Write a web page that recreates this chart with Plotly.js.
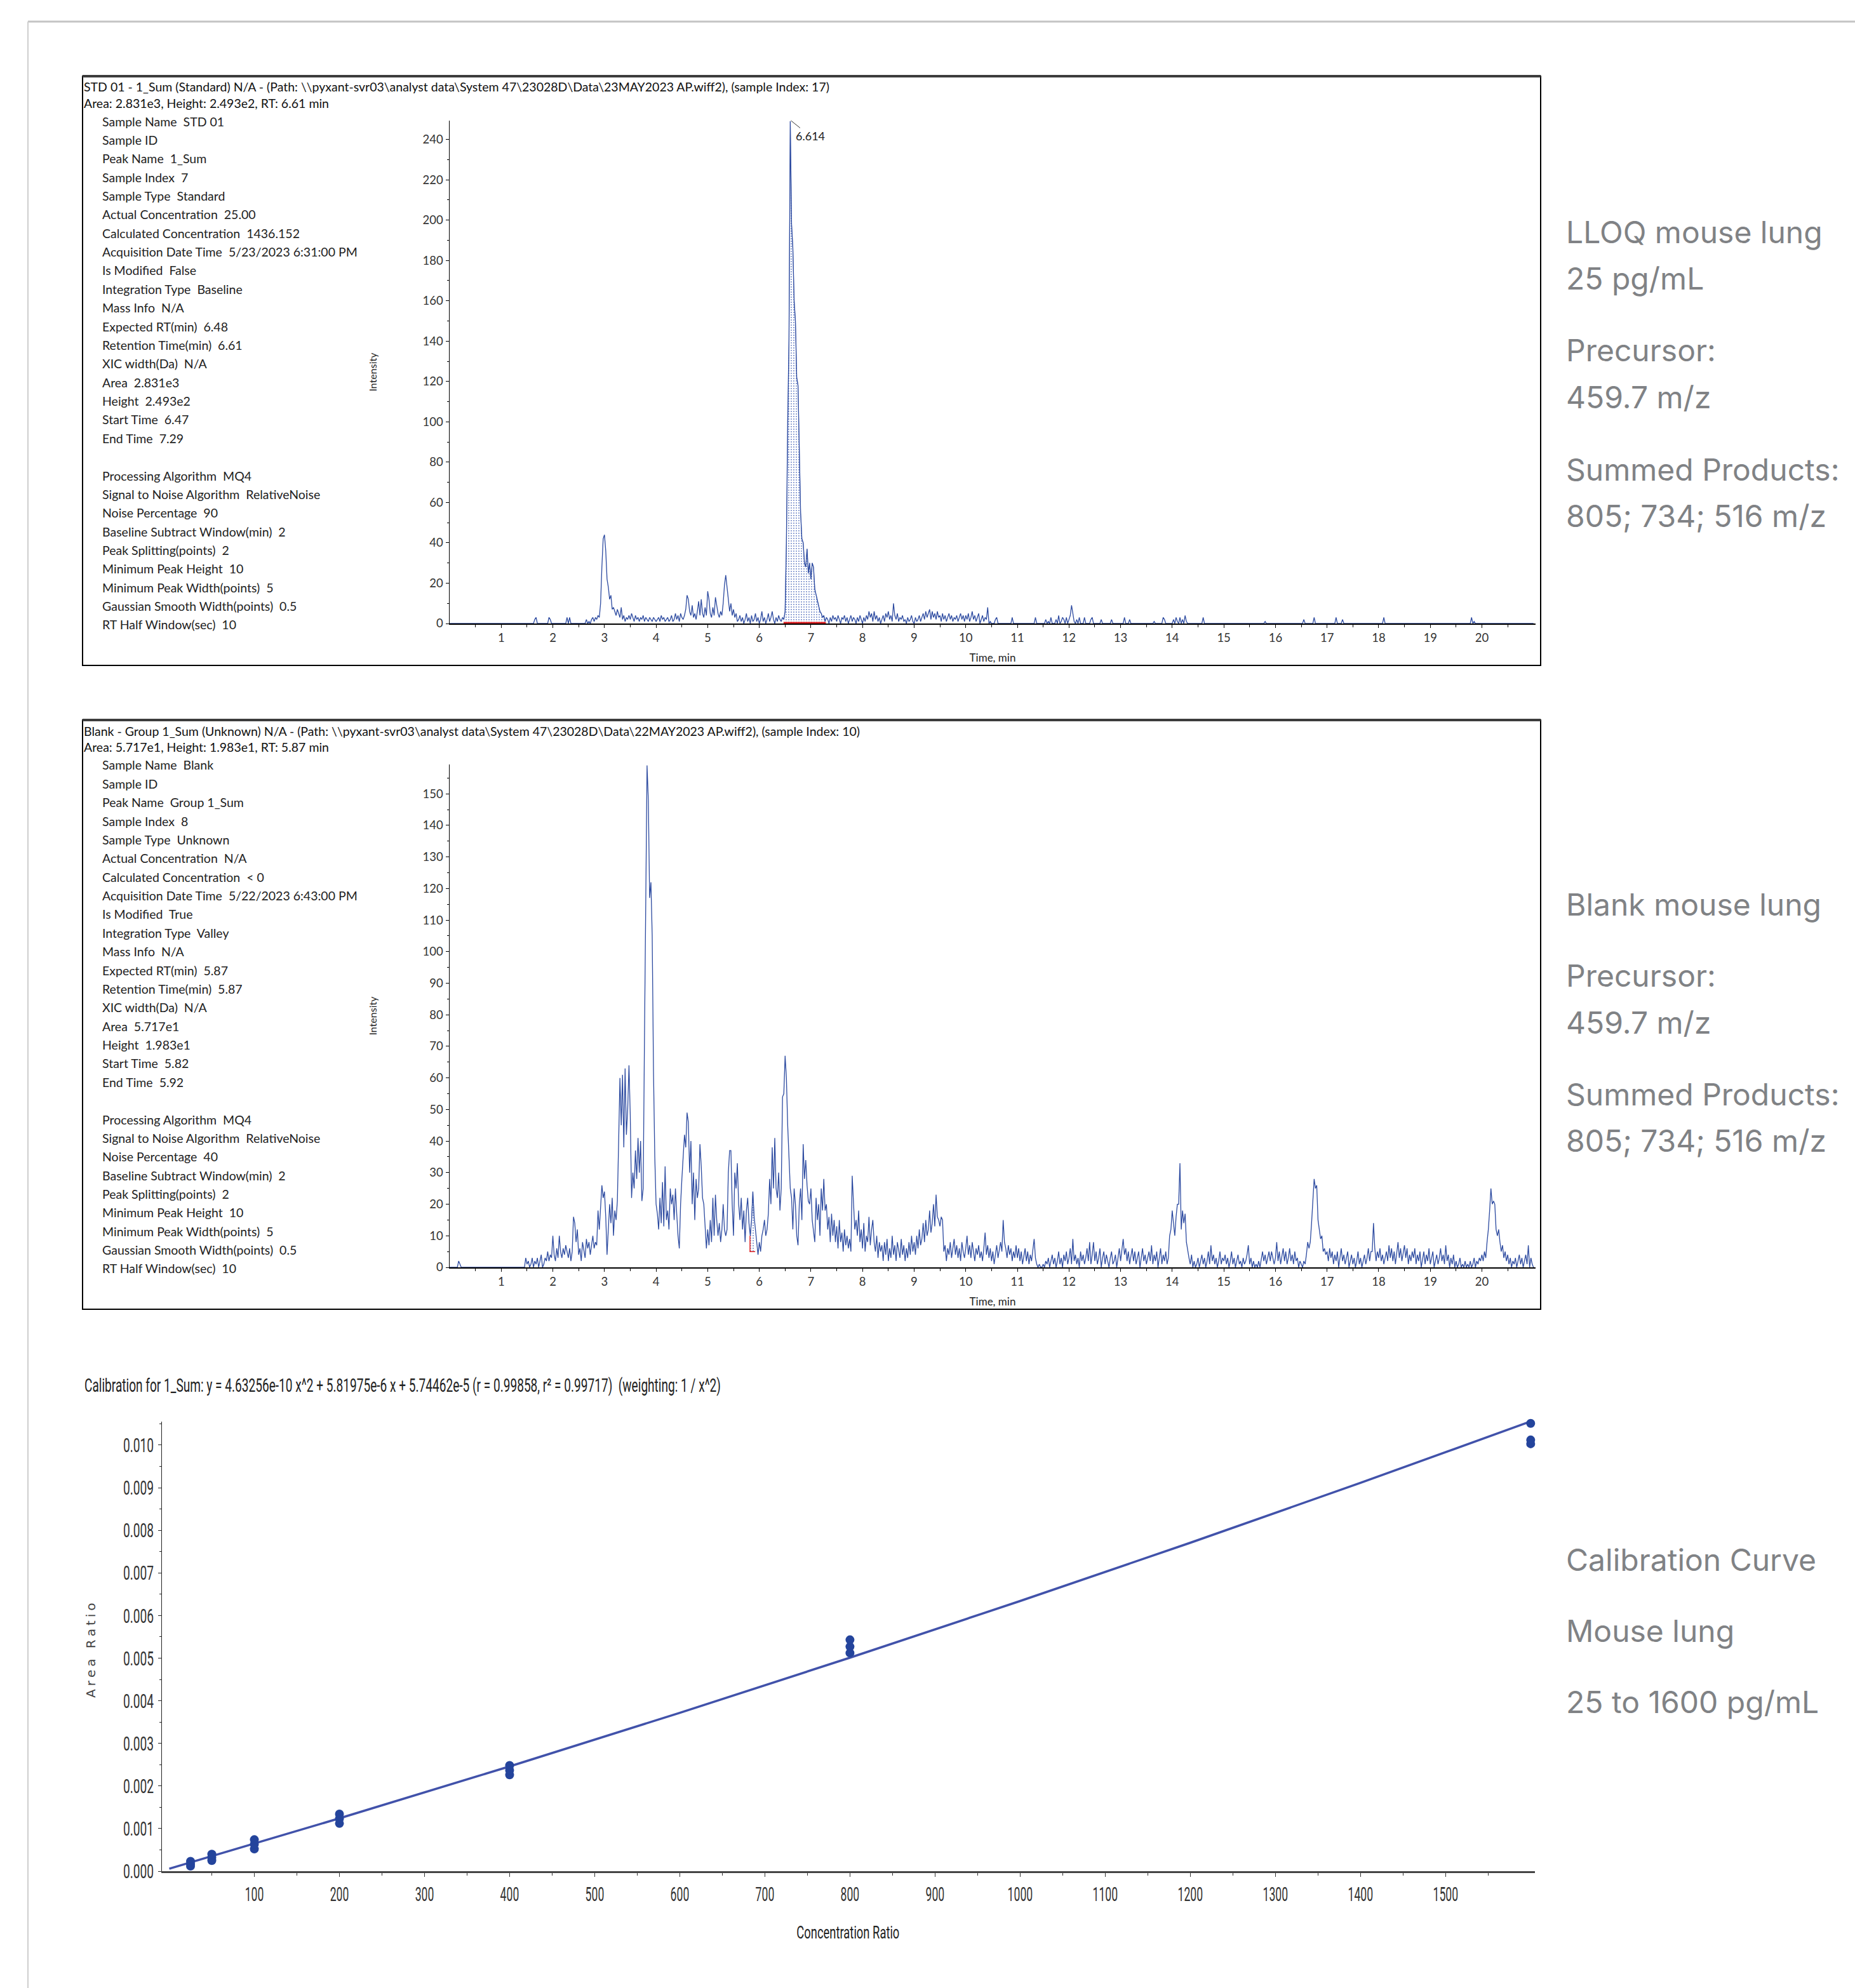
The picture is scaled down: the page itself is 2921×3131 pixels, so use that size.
<!DOCTYPE html>
<html><head><meta charset="utf-8">
<script src="https://cdn.plot.ly/plotly-3.0.1.min.js"></script>
<style>html,body{margin:0;padding:0;background:#fff}#chart{width:2921px;height:3131px}</style>
</head><body><div id="chart"></div>
<script>
// ---------------- DATA ----------------
// Chromatograms: one row per minute, sampled every 0.025 min (40 points per row)
const rtStep = 0.025;
const stdRows = [
 [0,0,0,0,0,0,0,0,0,0, 0,0,0,0,0,0,0,0,0,0, 0,0,0,0,0,0,0,0,0,0, 0,0,0,0,0,0,0,0,0,0],
 [0,0,0,0,0,0,0,0,0,0, 0,0,0,0,0,0,0,0,0,0, 0,0,0,0,0,0,2,3,0,0, 0,0,0,0,0,0,0,3,2,0],
 [0,0,0,0,0,0,0,0,0,0, 0,3,0,3,0,0,0,0,0,0, 0,0,0,0,0,0,2,0,1,0, 2,3,1,3,2,4,3,10,28,42],
 [44,36,22,18,12,14,7,8,6,4, 7,5,3,8,2,4,1,3,2,4, 2,5,3,1,4,2,3,1,3,2, 4,1,3,2,1,3,2,1,3,2],
 [1,2,3,1,4,2,3,1,2,3, 1,2,4,1,2,5,2,4,1,5, 3,2,4,7,14,12,6,4,9,3, 5,2,6,11,4,12,5,3,8,4],
 [16,12,5,3,8,4,13,9,5,3, 6,4,10,19,24,18,11,6,10,4, 7,3,5,1,2,4,1,3,0,2, 5,1,3,0,4,1,2,5,1,3],
 [0,2,6,1,3,0,2,5,1,3, 6,2,0,3,1,4,2,1,3,2, 6,40,100,140,249,198,186,160,150,122, 118,80,55,42,40,30,28,37,25,30],
 [22,30,28,17,14,11,8,6,5,3, 4,1,3,2,0,3,1,4,2,3, 1,4,2,0,3,2,4,1,3,0, 2,4,1,3,2,0,3,1,4,2],
 [0,3,1,4,2,6,3,5,1,6, 2,4,1,3,0,2,4,1,5,3, 6,2,4,1,10,4,2,5,1,3, 2,4,1,2,0,3,1,2,4,1],
 [0,3,1,2,4,1,3,5,2,6, 3,5,7,2,6,3,5,2,6,3, 4,1,5,2,4,1,3,5,2,4, 1,3,2,4,1,3,5,2,4,1],
 [4,2,5,1,3,6,2,4,1,3, 5,0,2,4,1,3,2,8,0,1, 0,0,0,2,3,0,0,0,0,0, 0,0,0,0,0,0,3,0,0,0],
 [0,0,0,0,0,0,0,0,0,0, 0,0,0,0,3,0,0,0,0,0, 0,0,2,0,1,0,3,0,0,0, 2,0,4,0,1,3,2,0,3,0],
 [2,4,9,5,1,0,2,0,3,0, 0,0,3,0,0,0,0,2,3,0, 0,0,0,0,0,2,0,0,0,0, 0,0,0,2,0,0,0,0,0,0],
 [0,0,0,3,0,0,0,2,0,0, 0,0,0,0,0,0,0,0,0,0, 0,0,0,0,0,0,1,0,0,0, 0,0,0,3,2,0,0,0,0,0],
 [0,2,0,3,1,0,3,0,2,0, 4,1,0,0,0,0,0,0,0,0, 0,0,0,0,3,0,0,0,0,0, 0,0,0,0,0,0,0,0,0,0],
 [0,0,0,0,0,0,0,0,0,0, 0,0,0,0,0,0,0,0,0,0, 0,0,0,0,0,0,0,0,0,0, 0,0,1,0,0,0,0,0,0,0],
 [0,0,0,0,0,0,0,0,0,0, 0,0,0,0,0,0,0,0,0,0, 0,0,2,0,0,0,0,0,0,0, 3,0,0,0,0,0,0,0,0,0],
 [0,0,0,0,0,0,0,3,0,0, 0,0,2,0,0,0,0,0,0,0, 0,0,0,0,0,0,0,0,0,0, 0,0,0,0,0,0,0,0,0,0],
 [0,0,0,0,3,0,0,0,0,0, 0,0,0,0,0,0,0,0,0,0, 0,0,0,0,0,0,0,0,0,0, 0,0,0,0,0,0,0,0,0,0],
 [0,0,0,0,0,0,0,0,0,0, 0,0,0,0,0,0,0,0,0,0, 0,0,0,0,0,0,0,0,0,0, 0,0,3,0,1,0,0,0,0,0],
 [0,0,0,0,0,0,0,0,0,0, 0,0,0,0,0,0,0,0,0,0, 0,0,0,0,0,0,0,0,0,0, 0,0,0,0,0,0,0,0,0,0],
 [0]
];
const blankRows = [
 [0,0,0,0,0,0,0,2,1,0, 0,0,0,0,0,0,0,0,0,0, 0,0,0,0,0,0,0,0,0,0, 0,0,0,0,0,0,0,0,0,0],
 [0,0,0,0,0,0,0,0,0,0, 0,0,0,0,0,0,0,0,0,3, 1,2,0,1,3,0,2,1,3,0, 2,4,0,1,3,2,5,2,4,3],
 [10,4,2,6,3,10,5,3,6,4, 7,5,3,6,2,5,16,14,8,12, 4,6,2,8,5,3,9,6,8,4, 7,10,6,8,7,18,12,20,26,22],
 [24,16,4,12,20,14,22,10,18,15, 21,40,60,45,61,38,63,42,50,64, 48,22,30,25,37,28,41,30,40,21, 25,72,110,159,148,117,122,105,62,35],
 [20,17,12,22,14,27,13,32,15,18, 12,25,20,23,15,25,17,10,6,20, 28,35,42,38,49,46,30,40,20,30, 15,28,22,25,39,32,22,20,12,6],
 [12,7,15,8,22,10,23,15,10,14, 8,12,20,12,10,12,30,37,37,20, 10,30,25,33,20,15,22,12,18,8, 18,22,14,10,15,24,16,12,7,4],
 [8,5,10,12,15,10,12,17,28,20, 38,25,41,25,22,30,18,25,54,55, 67,60,45,35,25,22,12,25,20,10, 7,20,25,15,39,28,34,26,21,20],
 [25,15,12,8,22,15,20,10,25,18, 28,18,20,12,16,8,17,10,15,8, 13,6,15,8,11,5,12,7,10,6, 9,5,29,20,12,15,10,18,8,12],
 [6,14,5,10,8,16,7,12,15,8, 5,10,3,8,5,7,2,8,4,9, 2,6,3,10,4,7,2,8,5,3, 9,4,7,2,6,3,8,4,10,5],
 [8,4,10,6,12,7,9,14,8,15, 10,12,18,11,14,20,13,23,16,15, 13,16,15,5,7,2,6,4,8,3, 6,9,4,7,3,6,2,8,5,3],
 [6,10,4,7,3,8,5,2,6,4, 7,3,5,2,6,11,4,7,3,6, 2,5,1,4,7,3,6,8,5,15, 8,6,3,7,4,6,2,5,3,7],
 [3,6,2,5,1,4,6,2,5,1, 4,2,6,9,3,1,0,1,0,0, 1,0,2,1,3,0,2,4,1,3, 0,2,5,1,3,0,4,2,5,1],
 [3,6,1,9,2,4,1,3,0,5, 2,4,1,3,6,2,8,1,4,8, 2,5,1,3,6,0,3,5,1,4, 2,0,3,5,1,2,4,0,3,6],
 [2,5,9,4,6,2,5,1,4,6, 2,5,1,3,5,0,3,6,2,4, 1,3,5,2,7,1,4,2,5,0, 3,6,1,4,2,5,1,3,10,12],
 [18,14,10,16,20,20,33,12,18,14, 17,8,5,3,1,4,0,2,0,1, 3,0,2,4,1,3,0,2,5,1, 7,2,4,1,3,0,2,5,1,3],
 [2,4,1,3,0,2,5,1,3,0, 2,4,1,2,0,3,1,2,4,7, 1,3,0,2,0,1,0,2,0,3, 5,2,4,1,3,5,2,5,3,1],
 [3,8,2,5,1,4,6,2,5,1, 3,6,2,4,1,5,2,3,0,2, 1,0,2,1,4,8,6,8,14,20, 28,25,26,15,12,9,10,5,6,4],
 [5,2,6,3,5,1,4,2,5,0, 3,6,2,4,1,3,5,0,2,4, 1,3,0,2,5,1,3,0,2,4, 1,3,6,2,5,5,14,6,2,5],
 [3,6,2,4,1,3,5,2,7,3, 6,2,5,1,4,8,3,6,2,5, 7,3,6,1,4,2,5,3,6,1, 4,2,5,0,3,5,1,4,2,6],
 [1,3,5,0,2,4,1,3,6,2, 4,1,7,2,4,0,3,1,4,0, 2,0,1,3,0,1,0,2,0,1, 0,2,0,1,3,0,2,1,3,2],
 [4,2,5,3,8,12,18,25,20,21, 20,12,10,12,8,5,7,3,5,2, 4,1,3,0,2,1,3,0,2,4, 1,3,0,2,4,1,7,0,3,1],
 [0]
];
// Integration results
const stdPeakRT = 6.614, stdPeakHeight = 249.3;
const stdIntegTime = [6.47, 7.29];
const stdIntegBase = [0.4, 0.4];
const blankIntegTime = [5.82, 5.92];
const blankIntegBase = [5, 5];
const blankMarkX = [5.82, 5.82, 5.92];
const blankMarkY = [10, 5, 5];
const timeTicks = [1,2,3,4,5,6,7,8,9,10,11,12,13,14,15,16,17,18,19,20];

// Calibration
const calConc = [25,25,25, 50,50,50, 100,100,100, 200,200,200, 400,400,400, 800,800,800, 1600,1600,1600,1600];
const calAreaRatio = [0.00012,0.00017,0.00023, 0.00025,0.00032,0.00040, 0.00052,0.00063,0.00074,
  0.00112,0.00123,0.00134, 0.00226,0.00237,0.00248, 0.00512,0.00527,0.00543, 0.01003,0.01012,0.01051,0.01059];
const fitConc = [0,100,200,400,600,800,1000,1200,1400,1600];
const fitAreaRatio = [0.0000574,0.000644,0.001240,0.002459,0.003716,0.005010,0.006340,0.007708,0.009113,0.010555];
const calTicks = [100,200,300,400,500,600,700,800,900,1000,1100,1200,1300,1400,1500];

// Texts
const stdHeader = ['STD 01 - 1_Sum (Standard) N/A - (Path: \\\\pyxant-svr03\\analyst data\\System 47\\23028D\\Data\\23MAY2023 AP.wiff2), (sample Index: 17)',
  'Area: 2.831e3, Height: 2.493e2, RT: 6.61 min'];
const stdInfo = [['Sample Name','STD 01'],['Sample ID',''],['Peak Name','1_Sum'],['Sample Index','7'],['Sample Type','Standard'],
  ['Actual Concentration','25.00'],['Calculated Concentration','1436.152'],['Acquisition Date Time','5/23/2023 6:31:00 PM'],
  ['Is Modified','False'],['Integration Type','Baseline'],['Mass Info','N/A'],['Expected RT(min)','6.48'],['Retention Time(min)','6.61'],
  ['XIC width(Da)','N/A'],['Area','2.831e3'],['Height','2.493e2'],['Start Time','6.47'],['End Time','7.29'],null,
  ['Processing Algorithm','MQ4'],['Signal to Noise Algorithm','RelativeNoise'],['Noise Percentage','90'],
  ['Baseline Subtract Window(min)','2'],['Peak Splitting(points)','2'],['Minimum Peak Height','10'],
  ['Minimum Peak Width(points)','5'],['Gaussian Smooth Width(points)','0.5'],['RT Half Window(sec)','10']];
const blankHeader = ['Blank - Group 1_Sum (Unknown) N/A - (Path: \\\\pyxant-svr03\\analyst data\\System 47\\23028D\\Data\\22MAY2023 AP.wiff2), (sample Index: 10)',
  'Area: 5.717e1, Height: 1.983e1, RT: 5.87 min'];
const blankInfo = [['Sample Name','Blank'],['Sample ID',''],['Peak Name','Group 1_Sum'],['Sample Index','8'],['Sample Type','Unknown'],
  ['Actual Concentration','N/A'],['Calculated Concentration','&lt; 0'],['Acquisition Date Time','5/22/2023 6:43:00 PM'],
  ['Is Modified','True'],['Integration Type','Valley'],['Mass Info','N/A'],['Expected RT(min)','5.87'],['Retention Time(min)','5.87'],
  ['XIC width(Da)','N/A'],['Area','5.717e1'],['Height','1.983e1'],['Start Time','5.82'],['End Time','5.92'],null,
  ['Processing Algorithm','MQ4'],['Signal to Noise Algorithm','RelativeNoise'],['Noise Percentage','40'],
  ['Baseline Subtract Window(min)','2'],['Peak Splitting(points)','2'],['Minimum Peak Height','10'],
  ['Minimum Peak Width(points)','5'],['Gaussian Smooth Width(points)','0.5'],['RT Half Window(sec)','10']];
const calTitle = 'Calibration for 1_Sum: y = 4.63256e-10 x^2 + 5.81975e-6 x + 5.74462e-5 (r = 0.99858, r\u00b2 = 0.99717)\u00a0\u00a0(weighting: 1 / x^2)';
const calXTitle = 'Concentration Ratio';
const calYTitle = 'Area Ratio';
const sideTop = ['LLOQ mouse lung','25 pg/mL','Precursor:','459.7 m/z','Summed Products:','805; 734; 516 m/z'];
const sideMid = ['Blank mouse lung','Precursor:','459.7 m/z','Summed Products:','805; 734; 516 m/z'];
const sideBot = ['Calibration Curve','Mouse lung','25 to 1600 pg/mL'];

// ---------------- BUILD ----------------
const W = 2921, H = 3131;
const px = x => x / W, py = y => 1 - y / H;
function flatten(rows){
  const t = [], v = [];
  rows.forEach((row, m) => row.forEach((val, j) => { t.push(+(m + j * rtStep).toFixed(3)); v.push(val); }));
  return {t, v};
}
const std = flatten(stdRows), blank = flatten(blankRows);
function slice(d, a, b){
  const t = [], v = [];
  d.t.forEach((x, i) => { if (x >= a && x <= b) { t.push(x); v.push(d.v[i]); } });
  return {t, v};
}
const stdFill = slice(std, stdIntegTime[0], stdIntegTime[1]);
const blankFill = slice(blank, blankIntegTime[0], blankIntegTime[1]);

const BLUE = '#2c4aa0';
const CF = 'Lato, "Open Sans", sans-serif';
const NF = 'Roboto, "Liberation Sans", sans-serif';
const SF = 'Inter, "Noto Sans", sans-serif';
const pattern = {shape: '.', fgcolor: '#6a82c6', bgcolor: '#ffffff', size: 4, solidity: 0.18};

const traces = [
  {x: stdFill.t, y: stdFill.v, xaxis: 'x', yaxis: 'y', mode: 'lines', line: {width: 0.5, color: BLUE},
   fill: 'tozeroy', fillcolor: '#ffffff', fillpattern: pattern},
  {x: std.t, y: std.v, xaxis: 'x', yaxis: 'y', mode: 'lines', line: {width: 1.3, color: BLUE}},
  {x: stdIntegTime, y: stdIntegBase, xaxis: 'x', yaxis: 'y', mode: 'lines', line: {width: 2.5, color: '#e02020'}},

  {x: blankIntegTime, y: blankIntegBase, xaxis: 'x2', yaxis: 'y2', mode: 'lines', line: {width: 0, color: 'rgba(0,0,0,0)'}},
  {x: blankFill.t, y: blankFill.v, xaxis: 'x2', yaxis: 'y2', mode: 'lines', line: {width: 0.5, color: BLUE},
   fill: 'tonexty', fillcolor: '#ffffff', fillpattern: pattern},
  {x: blank.t, y: blank.v, xaxis: 'x2', yaxis: 'y2', mode: 'lines', line: {width: 1.3, color: BLUE}},
  {x: blankMarkX, y: blankMarkY, xaxis: 'x2', yaxis: 'y2', mode: 'lines', line: {width: 1.5, color: '#e02020'}},

  {x: fitConc, y: fitAreaRatio, xaxis: 'x3', yaxis: 'y3', mode: 'lines', line: {width: 3.5, color: '#4152aa'}},
  {x: calConc, y: calAreaRatio, xaxis: 'x3', yaxis: 'y3', mode: 'markers', cliponaxis: false,
   marker: {size: 14, color: '#24449c', line: {width: 0}}}
];

const tickFontC = {family: CF, size: 18.5, color: '#333'};
function chromX(anchor, title){
  return {domain: [px(708), px(2418)], range: [0, 21.04], anchor: anchor, showline: true, linecolor: '#000', linewidth: 1.5,
    ticks: 'outside', ticklen: 5, tickcolor: '#000', tickwidth: 1, tickmode: 'array', tickvals: timeTicks,
    ticktext: timeTicks.map(String), minor: {tickmode: 'linear', tick0: 0.5, dtick: 1, ticks: 'outside', ticklen: 4, tickcolor: '#000', showgrid: false},
    tickfont: tickFontC, showgrid: false, zeroline: false, fixedrange: true,
    title: {text: title, font: {family: CF, size: 17, color: '#222'}, standoff: 16}};
}
function chromY(anchor, top, bottom, max, dtick, mdt){
  return {domain: [py(bottom), py(top)], range: [0, max], anchor: anchor, showline: true, linecolor: '#000', linewidth: 1.5,
    ticks: 'outside', ticklen: 5, tickcolor: '#000', tickwidth: 1, tick0: 0, dtick: dtick,
    minor: {dtick: mdt, ticks: 'outside', ticklen: 3, tickcolor: '#000', showgrid: false},
    tickfont: tickFontC, showgrid: false, zeroline: false, fixedrange: true,
    title: {text: 'Intensity', font: {family: CF, size: 16, color: '#222'}, standoff: 68}};
}

const annotations = [];
function txt(x, y, text, font, extra){
  annotations.push(Object.assign({xref: 'paper', yref: 'paper', x: px(x), y: py(y), text: text, showarrow: false,
    xanchor: 'left', yanchor: 'middle', align: 'left', font: font}, extra || {}));
  return annotations.length - 1;
}
function panelText(header, info, top){
  txt(130, top + 17, header[0], {family: CF, size: 19.5, color: '#111'});
  txt(130, top + 42, header[1], {family: CF, size: 19.5, color: '#111'});
  info.forEach((row, i) => {
    if (!row) return;
    txt(159, top + 71 + i * 29.37, row[0] + '\u00a0\u00a0' + row[1], {family: CF, size: 19.5, color: '#222'});
  });
}
panelText(stdHeader, stdInfo, 120);
panelText(blankHeader, blankInfo, 1134);
const sideFont = {family: SF, size: 48, color: '#808285'};
[365, 439, 551, 625, 739, 813].forEach((y, i) => txt(2464, y, sideTop[i], sideFont));
[1424, 1536, 1610, 1723, 1797].forEach((y, i) => txt(2464, y, sideMid[i], sideFont));
[2456, 2568, 2680].forEach((y, i) => txt(2464, y, sideBot[i], sideFont));
const calTitleIdx = txt(131, 2181, calTitle, {family: NF, size: 30, color: '#222'});
const calXTitleIdx = txt(1335, 3043, calXTitle, {family: NF, size: 28, color: '#222'}, {xanchor: 'center', align: 'center'});
txt(143, 2599, calYTitle.split('').join('\u2005'), {family: '"DejaVu Sans", sans-serif', size: 20, color: '#444'},
  {xanchor: 'center', align: 'center', textangle: -90});
annotations.push({xref: 'x', yref: 'y', x: stdPeakRT, y: stdPeakHeight, text: String(stdPeakRT), showarrow: true,
  arrowhead: 0, arrowwidth: 1, arrowcolor: '#333', ax: 30, ay: 24, font: {family: CF, size: 18, color: '#222'}});

const shapes = [
  {type: 'line', xref: 'paper', yref: 'paper', x0: px(44), x1: 1, y0: py(34), y1: py(34), line: {color: '#c4c4c4', width: 3}},
  {type: 'line', xref: 'paper', yref: 'paper', x0: px(44), x1: px(44), y0: py(34), y1: 0, line: {color: '#cfcfcf', width: 2}},
  {type: 'rect', xref: 'paper', yref: 'paper', x0: px(130), x1: px(2426), y0: py(1048), y1: py(120), line: {color: '#000', width: 2}},
  {type: 'line', xref: 'paper', yref: 'paper', x0: px(130), x1: px(2426), y0: py(120), y1: py(120), line: {color: '#3c3c3c', width: 4}},
  {type: 'rect', xref: 'paper', yref: 'paper', x0: px(130), x1: px(2426), y0: py(2062), y1: py(1134), line: {color: '#000', width: 2}},
  {type: 'line', xref: 'paper', yref: 'paper', x0: px(130), x1: px(2426), y0: py(1134), y1: py(1134), line: {color: '#3c3c3c', width: 4}}
];

const calTickFont = {family: NF, size: 32, color: '#333'};
const layout = {
  width: W, height: H, margin: {l: 0, r: 0, t: 0, b: 0}, showlegend: false, hovermode: false,
  paper_bgcolor: '#ffffff', plot_bgcolor: 'rgba(0,0,0,0)',
  xaxis: chromX('y', 'Time, min'),
  yaxis: chromY('x', 190, 982, 249.3, 20, 10),
  xaxis2: chromX('y2', 'Time, min'),
  yaxis2: chromY('x2', 1204, 1996, 159.3, 10, 5),
  xaxis3: {domain: [px(255), px(2417)], range: [-8.6, 1605], anchor: 'y3', showline: true, linecolor: '#444', linewidth: 3,
    ticks: 'outside', ticklen: 6, tickcolor: '#333', tickmode: 'array', tickvals: calTicks, ticktext: calTicks.map(String),
    minor: {tickmode: 'linear', tick0: 50, dtick: 100, ticks: 'outside', ticklen: 4, tickcolor: '#333', showgrid: false},
    tickfont: calTickFont, ticklabelstandoff: 0, showgrid: false, zeroline: false, fixedrange: true},
  yaxis3: {domain: [py(2947), py(2239)], range: [0, 0.01055], anchor: 'x3', showline: true, linecolor: '#222', linewidth: 1.5,
    ticks: 'outside', ticklen: 5, tickcolor: '#222', tick0: 0, dtick: 0.001, tickformat: '.3f',
    minor: {dtick: 0.0005, ticks: 'outside', ticklen: 3, tickcolor: '#222', showgrid: false},
    tickfont: calTickFont, showgrid: false, zeroline: false, fixedrange: true},
  annotations: annotations,
  shapes: shapes
};

Plotly.newPlot('chart', traces, layout, {staticPlot: true, displayModeBar: false}).then(gd => {
  // the calibration software uses a tall, condensed typeface: compress glyphs horizontally
  const squeeze = (el, k, target) => {
    if (!el) return;
    const L = el.getComputedTextLength();
    el.setAttribute('textLength', (target || L * k).toFixed(1));
    el.setAttribute('lengthAdjust', 'spacingAndGlyphs');
  };
  gd.querySelectorAll('g.x3tick text').forEach(el => squeeze(el, 0.55));
  gd.querySelectorAll('g.y3tick text').forEach(el => squeeze(el, 0.6));
  squeeze(gd.querySelector('g.annotation[data-index="' + calTitleIdx + '"] text'), 0, 1002);
  squeeze(gd.querySelector('g.annotation[data-index="' + calXTitleIdx + '"] text'), 0, 162);
});
</script></body></html>
